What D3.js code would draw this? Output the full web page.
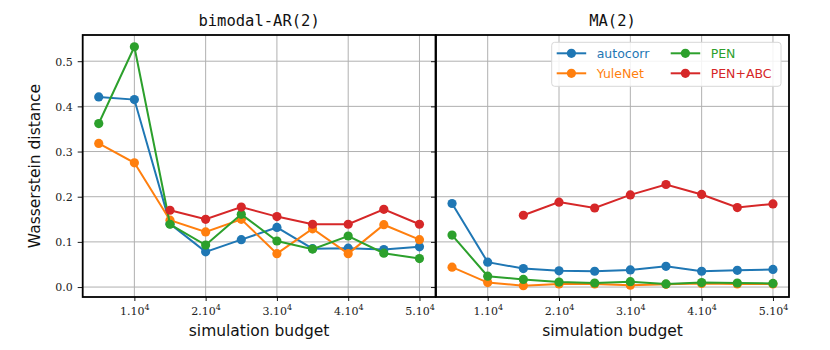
<!DOCTYPE html>
<html>
<head>
<meta charset="utf-8">
<script src="https://cdn.jsdelivr.net/npm/d3@7"></script>
<style>
  body { margin: 0; background: #fff; }
  svg { display: block; }
  .tick-lab { font-family: "DejaVu Serif", "Liberation Serif", serif; font-size: 11px; fill: #222; }
  .ax-lab { font-family: "DejaVu Sans", "Open Sans", sans-serif; font-size: 15.5px; fill: #111; }
  .ttl { font-family: "DejaVu Sans Mono", "Liberation Mono", monospace; font-size: 15.5px; fill: #111; }
  .leg { font-family: "DejaVu Sans", "Open Sans", sans-serif; font-size: 12.5px; }
</style>
</head>
<body>
<div id="chart"></div>
<script>
// simulation budget (units of 10^4)
var budget = [0.5, 1, 1.5, 2, 2.5, 3, 3.5, 4, 4.5, 5];
var xTicks = [1, 2, 3, 4, 5];
var yTicks = [0, 0.1, 0.2, 0.3, 0.4, 0.5];
var panelTitles = ["bimodal-AR(2)", "MA(2)"];
var methods = ["autocorr", "YuleNet", "PEN", "PEN+ABC"];
var colors = ["#1f77b4", "#ff7f0e", "#2ca02c", "#d62728"];

// bimodal-AR(2)
var arAutocorr = [0.421, 0.415, 0.140, 0.078, 0.105, 0.132, 0.085, 0.086, 0.083, 0.089];
var arYuleNet  = [0.318, 0.275, 0.148, 0.122, 0.150, 0.074, 0.129, 0.074, 0.138, 0.105];
var arPEN      = [0.362, 0.532, 0.139, 0.093, 0.161, 0.102, 0.084, 0.113, 0.075, 0.063];
var arPENABC   = [null, null, 0.170, 0.150, 0.177, 0.156, 0.139, 0.139, 0.172, 0.139];

// MA(2)
var maAutocorr = [0.185, 0.055, 0.041, 0.036, 0.035, 0.038, 0.046, 0.035, 0.037, 0.039];
var maYuleNet  = [0.044, 0.010, 0.003, 0.007, 0.007, 0.004, 0.006, 0.008, 0.007, 0.007];
var maPEN      = [0.115, 0.024, 0.017, 0.011, 0.009, 0.012, 0.007, 0.010, 0.009, 0.008];
var maPENABC   = [null, null, 0.159, 0.188, 0.175, 0.204, 0.227, 0.205, 0.176, 0.184];

var panels = [
  [arAutocorr, arYuleNet, arPEN, arPENABC],
  [maAutocorr, maYuleNet, maPEN, maPENABC]
];

var width = 830, height = 350;
var plotTop = 35, plotBottom = 297;
var panelX = [[82.7, 435.5], [436, 789]];

var svg = d3.select("#chart").append("svg")
  .attr("width", width)
  .attr("height", height);

var y = d3.scaleLinear().domain([-0.022, 0.558]).range([plotBottom, plotTop]);

panels.forEach(function(series, p) {
  var x = d3.scaleLinear().domain([0.275, 5.225]).range(panelX[p]);
  var g = svg.append("g");

  // grid
  g.selectAll(".gx").data(xTicks).enter().append("line")
    .attr("x1", function(d) { return x(d); }).attr("x2", function(d) { return x(d); })
    .attr("y1", plotTop).attr("y2", plotBottom)
    .attr("stroke", "#b0b0b0").attr("stroke-width", 1);
  g.selectAll(".gy").data(yTicks).enter().append("line")
    .attr("x1", panelX[p][0]).attr("x2", panelX[p][1])
    .attr("y1", function(d) { return y(d); }).attr("y2", function(d) { return y(d); })
    .attr("stroke", "#b0b0b0").attr("stroke-width", 1);

  // axes
  var xAxis = g.append("g")
    .attr("transform", "translate(0," + plotBottom + ")")
    .call(d3.axisBottom(x).tickValues(xTicks).tickSize(4).tickFormat(""));
  xAxis.select(".domain").remove();
  xAxis.selectAll("line").attr("stroke", "#000").attr("stroke-width", 0.9);

  var xl = xAxis.selectAll(".tick").append("text")
    .attr("class", "tick-lab")
    .attr("y", 18)
    .attr("text-anchor", "middle");
  xl.append("tspan").text(function(d) { return d + ".10"; });
  xl.append("tspan").attr("dy", -5).attr("font-size", "8px").text("4");

  var yAxis = g.append("g")
    .attr("transform", "translate(" + panelX[p][0] + ",0)")
    .call(d3.axisLeft(y).tickValues(yTicks).tickSize(5)
      .tickFormat(p == 0 ? d3.format(".1f") : ""));
  yAxis.select(".domain").remove();
  yAxis.selectAll("line").attr("stroke", "#000").attr("stroke-width", 0.9);
  yAxis.selectAll("text").attr("class", "tick-lab").attr("x", -10).attr("dy", "0.35em");

  // lines and markers
  series.forEach(function(vals, s) {
    var pts = budget.map(function(b, i) { return [b, vals[i]]; })
      .filter(function(d) { return d[1] != null; });
    var line = d3.line()
      .x(function(d) { return x(d[0]); })
      .y(function(d) { return y(d[1]); });
    g.append("path")
      .datum(pts)
      .attr("d", line)
      .attr("fill", "none")
      .attr("stroke", colors[s])
      .attr("stroke-width", 2);
    g.selectAll(".m" + s).data(pts).enter().append("circle")
      .attr("cx", function(d) { return x(d[0]); })
      .attr("cy", function(d) { return y(d[1]); })
      .attr("r", 4.6)
      .attr("fill", colors[s]);
  });

  // frame
  g.append("rect")
    .attr("x", panelX[p][0]).attr("y", plotTop)
    .attr("width", panelX[p][1] - panelX[p][0]).attr("height", plotBottom - plotTop)
    .attr("fill", "none").attr("stroke", "#000").attr("stroke-width", 1.8);

  // title
  g.append("text")
    .attr("class", "ttl")
    .attr("x", (panelX[p][0] + panelX[p][1]) / 2)
    .attr("y", 26)
    .attr("text-anchor", "middle")
    .text(panelTitles[p]);

  // x label
  g.append("text")
    .attr("class", "ax-lab")
    .attr("x", (panelX[p][0] + panelX[p][1]) / 2)
    .attr("y", 336)
    .attr("text-anchor", "middle")
    .text("simulation budget");

  // legend
  if (p == 1) {
    var lg = g.append("g");
    lg.append("rect")
      .attr("x", 551.7).attr("y", 42.3)
      .attr("width", 229.3).attr("height", 44)
      .attr("rx", 3)
      .attr("fill", "#fff").attr("fill-opacity", 0.85)
      .attr("stroke", "#d8d8d8").attr("stroke-width", 1);
    methods.forEach(function(m, i) {
      var col = Math.floor(i / 2), row = i % 2;
      var lx = 556.7 + col * 114, ly = 53.3 + row * 20;
      lg.append("line")
        .attr("x1", lx).attr("x2", lx + 29.5)
        .attr("y1", ly).attr("y2", ly)
        .attr("stroke", colors[i]).attr("stroke-width", 2);
      lg.append("circle")
        .attr("cx", lx + 14.7).attr("cy", ly).attr("r", 4.6)
        .attr("fill", colors[i]);
      lg.append("text")
        .attr("class", "leg")
        .attr("x", lx + 40).attr("y", ly)
        .attr("dy", "0.35em")
        .attr("fill", colors[i])
        .text(m);
    });
  }
});

// y label
svg.append("text")
  .attr("class", "ax-lab")
  .attr("transform", "translate(40," + ((plotTop + plotBottom) / 2) + ") rotate(-90)")
  .attr("text-anchor", "middle")
  .text("Wasserstein distance");
</script>
</body>
</html>
